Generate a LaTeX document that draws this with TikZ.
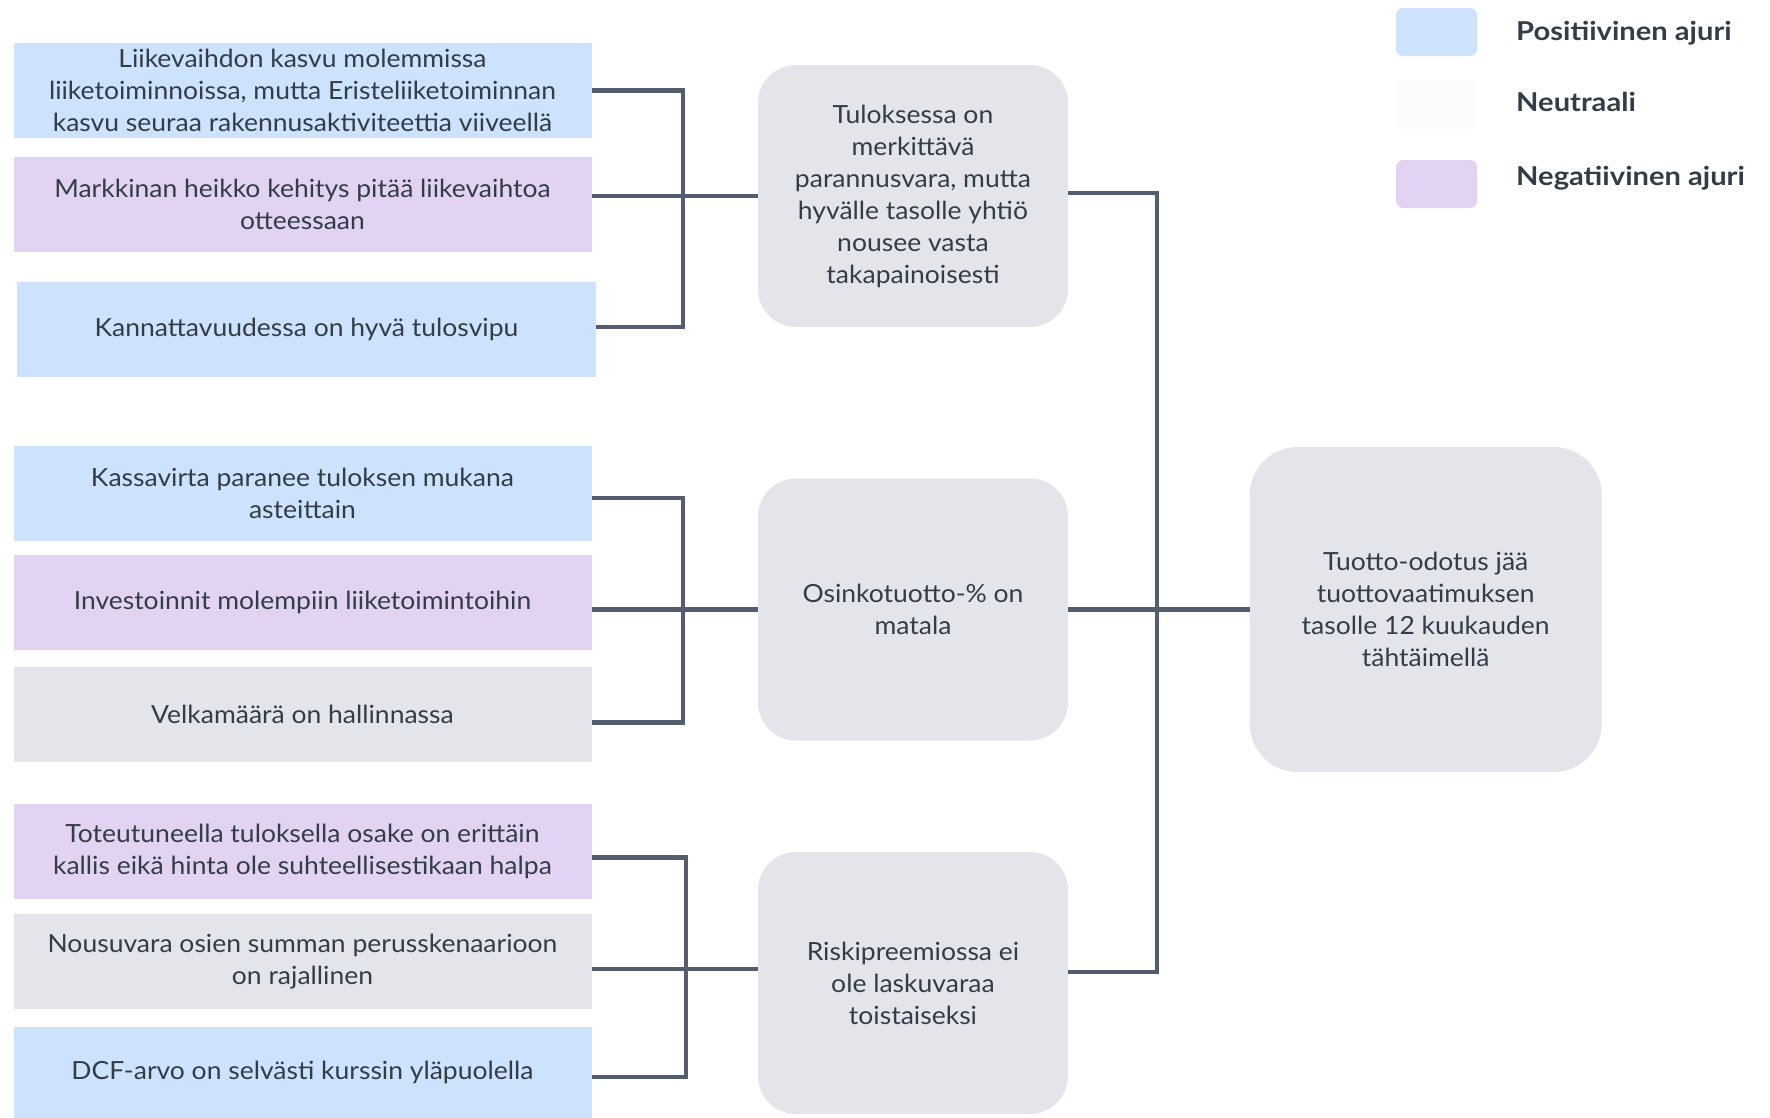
\documentclass[tikz,border=0pt]{standalone}
\usepackage{fontspec}
\setmainfont{Lato}[FakeStretch=1.06]
\newfontfamily\legfont{Lato Bold}[FakeStretch=1.12]
\usetikzlibrary{calc}
\definecolor{posblue}{RGB}{204,226,253}
\definecolor{negpurple}{RGB}{226,211,243}
\definecolor{neugray}{RGB}{228,229,234}
\definecolor{neuwhite}{RGB}{252,252,252}
\definecolor{linec}{RGB}{83,93,110}
\definecolor{txt}{RGB}{51,61,71}
\begin{document}
\begin{tikzpicture}[x=1pt,y=-1pt,
  lbox/.style={rectangle, draw=none, minimum width=578pt, minimum height=95pt, inner sep=0pt, align=center, text=txt, font=\fontsize{25}{32}\selectfont},
  posbox/.style={lbox, fill=posblue},
  negbox/.style={lbox, fill=negpurple},
  neubox/.style={lbox, fill=neugray},
  mbox/.style={rectangle, rounded corners=38pt, fill=neugray, minimum width=310pt, minimum height=262pt, inner sep=0pt, align=center, text=txt, font=\fontsize{25}{32}\selectfont},
  rbox/.style={mbox, rounded corners=48pt, minimum width=352pt, minimum height=325pt},
  conn/.style={draw=linec, line width=4.5pt, line join=miter},
  legbox/.style={rectangle, rounded corners=7pt, minimum width=81pt, minimum height=48pt, inner sep=0pt},
  legtxt/.style={anchor=base west, inner sep=0pt, text=txt, font=\legfont\fontsize{26}{30}\selectfont}
]
\useasboundingbox (0,0) rectangle (1770,1117);

% left boxes
\node[posbox] (b1) at (302.5,90.5) {Liikevaihdon kasvu molemmissa\\liiketoiminnoissa, mutta Eristeliiketoiminnan\\kasvu seuraa rakennusaktiviteettia viiveellä};
\node[negbox] (b2) at (302.5,204) {Markkinan heikko kehitys pitää liikevaihtoa\\otteessaan};
\node[posbox, minimum width=579pt] (b3) at (306.5,329) {Kannattavuudessa on hyvä tulosvipu};
\node[posbox] (b4) at (302.5,493) {Kassavirta paranee tuloksen mukana\\asteittain};
\node[negbox] (b5) at (302.5,602.5) {Investoinnit molempiin liiketoimintoihin};
\node[neubox] (b6) at (302.5,714.5) {Velkamäärä on hallinnassa};
\node[negbox] (b7) at (302.5,851.5) {Toteutuneella tuloksella osake on erittäin\\kallis eikä hinta ole suhteellisestikaan halpa};
\node[neubox] (b8) at (302.5,961.5) {Nousuvara osien summan perusskenaarioon\\on rajallinen};
\node[posbox, minimum height=91pt] (b9) at (302.5,1072.5) {DCF-arvo on selvästi kurssin yläpuolella};

% middle boxes
\node[mbox] (m1) at (913,196) {Tuloksessa on\\merkittävä\\parannusvara, mutta\\hyvälle tasolle yhtiö\\nousee vasta\\takapainoisesti};
\node[mbox] (m2) at (913,609.5) {Osinkotuotto-\% on\\matala};
\node[mbox] (m3) at (913,983) {Riskipreemiossa ei\\ole laskuvaraa\\toistaiseksi};

% right box
\node[rbox] (r) at (1425.7,609.5) {Tuotto-odotus jää\\tuottovaatimuksen\\tasolle 12 kuukauden\\tähtäimellä};

% legend
\node[legbox, fill=posblue] (lg1) at (1436.5,32) {};
\node[legbox, fill=neuwhite] (lg2) at (1436.5,104.5) {};
\node[legbox, fill=negpurple] (lg3) at (1436.5,184) {};
\node[legtxt] (lt1) at (1516,40) {Positiivinen ajuri};
\node[legtxt] (lt2) at (1516,111) {Neutraali};
\node[legtxt] (lt3) at (1516,185) {Negatiivinen ajuri};

% connectors group 1
\coordinate (j1) at (683,196);
\draw[conn] (b1.east) -| (j1) |- ([yshift=2pt]b3.east);
\draw[conn] (b2.east |- m1.west) -- (m1.west);

% group 2
\coordinate (j2) at (683,609.5);
\draw[conn] ([yshift=-5pt]b4.east) -| (j2) |- ([yshift=-8pt]b6.east);
\draw[conn] ([yshift=-7pt]b5.east) -- (m2.west);

% group 3
\coordinate (j3) at (686,969);
\draw[conn] ([yshift=-6pt]b7.east) -| (j3) |- ([yshift=-4.5pt]b9.east);
\draw[conn] ([yshift=-7.5pt]b8.east) -- (j3 -| m3.west);

% right trunk
\coordinate (k1) at (1157,193);
\coordinate (k3) at (1157,972);
\draw[conn] (k1 -| m1.east) -- (k1) -- (k3) -- (k3 -| m3.east);
\draw[conn] (m2.east) -- (r.west);
\end{tikzpicture}
\end{document}
